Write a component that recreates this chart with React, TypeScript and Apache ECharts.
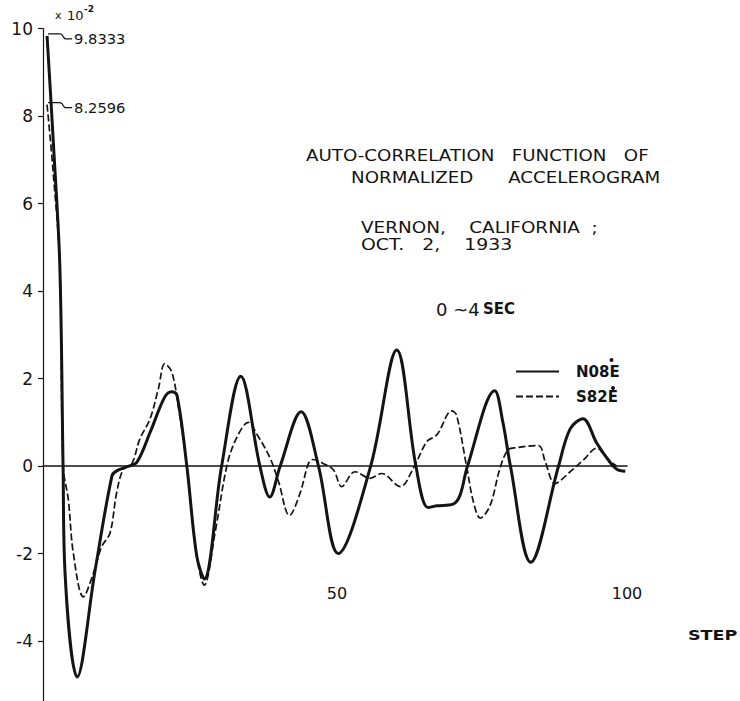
import React, { useEffect, useRef } from "react";
import * as echarts from "echarts";

const n08eSteps = [0, 1.2, 2.2, 2.76, 3.1, 5.2, 8.3, 11.2, 12.0, 13.7, 15.5, 17.8, 20.3, 21.5, 22.4, 24.1, 25.8, 27.1, 30.1, 33.4, 36.7, 38.4, 40.2, 43.8, 46.8, 50.2, 55.8, 60.3, 63.6, 65.7, 67.2, 70.0, 71.2, 72.5, 77.2, 78.6, 79.9, 83.4, 88.2, 90.2, 92.4, 94.8, 97.1, 98.3, 99.7];
const n08eValues = [9.8333, 7.13, 4.58, 0, -2.44, -4.82, -2.37, -0.22, -0.11, -0.02, 0.09, 0.78, 1.58, 1.7, 1.62, 0, -2.05, -2.58, 0, 2.05, 0, -0.71, 0, 1.24, 0, -2.0, 0, 2.65, 0, -0.95, -0.91, -0.87, -0.67, 0, 1.72, 1.0, 0, -2.2, 0, 0.85, 1.08, 0.52, 0.08, -0.08, -0.12];

const s82eSteps = [0, 1.0, 2.2, 2.76, 3.67, 4.53, 6.26, 7.98, 9.43, 10.86, 12.0, 13.16, 14.6, 16.0, 17.76, 19.2, 20.3, 21.5, 22.6, 24.1, 25.8, 27.1, 29.0, 31.0, 32.6, 34.7, 36.2, 38.4, 39.9, 41.8, 43.6, 45.05, 45.8, 47.6, 49.4, 50.8, 53.1, 55.7, 57.7, 60.9, 63.2, 65.5, 67.2, 69.8, 70.6, 72.4, 73.5, 74.7, 76.4, 78.1, 79.5, 80.95, 84.7, 85.9, 87.6, 90.2, 92.5, 94.8, 96.5, 98.2];
const s82eValues = [8.2596, 6.8, 4.58, 0, -0.77, -1.99, -2.99, -2.45, -1.84, -1.53, -0.61, -0.07, 0.05, 0.62, 1.08, 1.77, 2.34, 2.15, 1.39, 0, -2.05, -2.72, -1.5, 0, 0.62, 1.0, 0.72, 0.2, -0.35, -1.13, -0.63, 0.05, 0.15, 0.06, -0.09, -0.47, -0.13, -0.28, -0.17, -0.47, -0.04, 0.56, 0.71, 1.26, 1.17, -0.05, -0.81, -1.19, -0.9, -0.05, 0.37, 0.42, 0.47, 0.1, -0.4, -0.13, 0.14, 0.41, 0.18, 0];

const seriesNames = ["N08E", "S82E"];
const yTickValues = [-4, -2, 0, 2, 4, 6, 8, 10];
const xTickValues = [50, 100];
const peakValues = [9.8333, 8.2596];
const peakLabels = ["9.8333", "8.2596"];
const titleLines = ["AUTO-CORRELATION   FUNCTION   OF", "NORMALIZED      ACCELEROGRAM", "VERNON,    CALIFORNIA  ;", "OCT.   2,    1933"];

const INK = "#141414";
const FONT = "DejaVu Sans";

export default function App() {
  const ref = useRef<HTMLDivElement>(null);
  useEffect(() => {
    const chart = echarts.init(ref.current!, null, { renderer: "svg" });
    const n08eData = n08eSteps.map((s, i) => [s, n08eValues[i]]);
    const s82eData = s82eSteps.map((s, i) => [s, s82eValues[i]]);
    chart.setOption({
      animation: false,
      backgroundColor: "#ffffff",
      grid: { left: 43, top: 28.5, width: 584, height: 672.5, outerBoundsMode: "none", containLabel: false },
      xAxis: {
        type: "value",
        min: -0.7,
        max: 100,
        axisLine: { show: true, onZero: true, lineStyle: { color: INK, width: 1.5 } },
        axisTick: { show: false },
        axisLabel: { customValues: xTickValues, margin: -116, fontSize: 16, color: INK, fontFamily: FONT },
        splitLine: { show: false },
      },
      yAxis: {
        type: "value",
        min: -5.37,
        max: 10,
        axisLine: { show: true, onZero: false, lineStyle: { color: INK, width: 1.2 } },
        axisTick: { show: true, customValues: yTickValues, length: 5, lineStyle: { color: INK, width: 1.2 } },
        axisLabel: { customValues: yTickValues, margin: 10, fontSize: 17, color: INK, fontFamily: FONT },
        splitLine: { show: false },
      },
      legend: {
        data: seriesNames,
        orient: "vertical",
        left: 510,
        top: 359,
        itemWidth: 43,
        itemHeight: 14,
        itemGap: 10,
        itemStyle: { opacity: 0 },
        lineStyle: { width: 2, opacity: 1 },
        textStyle: { fontFamily: FONT, fontWeight: "bold", fontSize: 15, color: INK, padding: [0, 0, 0, 12] },
      },
      series: [
        {
          name: seriesNames[0],
          type: "line",
          data: n08eData,
          symbol: "none",
          smooth: 0.35,
          lineStyle: { color: INK, width: 3 },
          itemStyle: { color: INK },
          z: 3,
        },
        {
          name: seriesNames[1],
          type: "line",
          data: s82eData,
          symbol: "none",
          smooth: 0.35,
          lineStyle: { color: INK, width: 1.7, type: [7, 3] },
          itemStyle: { color: INK },
          z: 2,
        },
      ],
    });

    const leaders: any[] = [];
    peakValues.forEach((v, i) => {
      const p = chart.convertToPixel({ seriesIndex: 0 }, [0, v]) as number[];
      const x = p[0];
      const y = p[1];
      leaders.push({
        type: "polyline",
        shape: { points: [[x + 1, y - 2], [x + 13, y - 2], [x + 15, y - 1], [x + 16.5, y + 1.5], [x + 18, y + 3], [x + 25, y + 3]] },
        style: { stroke: INK, lineWidth: 1.2, fill: null },
      });
      leaders.push({
        type: "text",
        x: x + 27,
        y: y + 3.5,
        scaleX: 1.05,
        style: { text: peakLabels[i], fontSize: 14, fontFamily: FONT, fill: INK, align: "left", verticalAlign: "middle" },
      });
    });

    const titleStyle = (t: string) => ({ text: t, fontSize: 16, fontFamily: FONT, fill: INK, align: "left", verticalAlign: "middle" });

    chart.setOption({
      graphic: [
        ...leaders,
        { type: "text", x: 55, y: 15, style: { text: "x", fontSize: 11, fontFamily: FONT, fill: INK, align: "left", verticalAlign: "middle" } },
        { type: "text", x: 67, y: 15, style: { text: "10", fontSize: 13, fontFamily: FONT, fill: INK, align: "left", verticalAlign: "middle" } },
        { type: "text", x: 84, y: 9, style: { text: "-2", fontSize: 9, fontWeight: "bold", fontFamily: FONT, fill: INK, align: "left", verticalAlign: "middle" } },
        { type: "text", x: 306, y: 155, scaleX: 1.14, style: titleStyle(titleLines[0]) },
        { type: "text", x: 351, y: 177, scaleX: 1.14, style: titleStyle(titleLines[1]) },
        { type: "text", x: 361, y: 227, scaleX: 1.15, style: titleStyle(titleLines[2]) },
        { type: "text", x: 361, y: 245, scaleX: 1.18, style: titleStyle(titleLines[3]) },
        {
          type: "text",
          x: 436,
          y: 309,
          style: {
            text: "{a|0 ~4} {b|SEC}",
            fill: INK,
            align: "left",
            verticalAlign: "middle",
            rich: {
              a: { fontSize: 18, fontFamily: FONT, fill: INK },
              b: { fontSize: 15, fontFamily: FONT, fontWeight: "bold", fill: INK },
            },
          },
        },
        { type: "circle", shape: { cx: 611.5, cy: 360, r: 2 }, style: { fill: INK } },
        { type: "circle", shape: { cx: 613, cy: 388, r: 2 }, style: { fill: INK } },
        { type: "text", x: 688, y: 635, scaleX: 1.25, style: { text: "STEP", fontSize: 14, fontWeight: "bold", fontFamily: FONT, fill: INK, align: "left", verticalAlign: "middle" } },
      ],
    });

    return () => chart.dispose();
  }, []);
  return <div ref={ref} style={{ position: "fixed", left: 0, top: 0, width: 740, height: 701, background: "#fff" }} />;
}
